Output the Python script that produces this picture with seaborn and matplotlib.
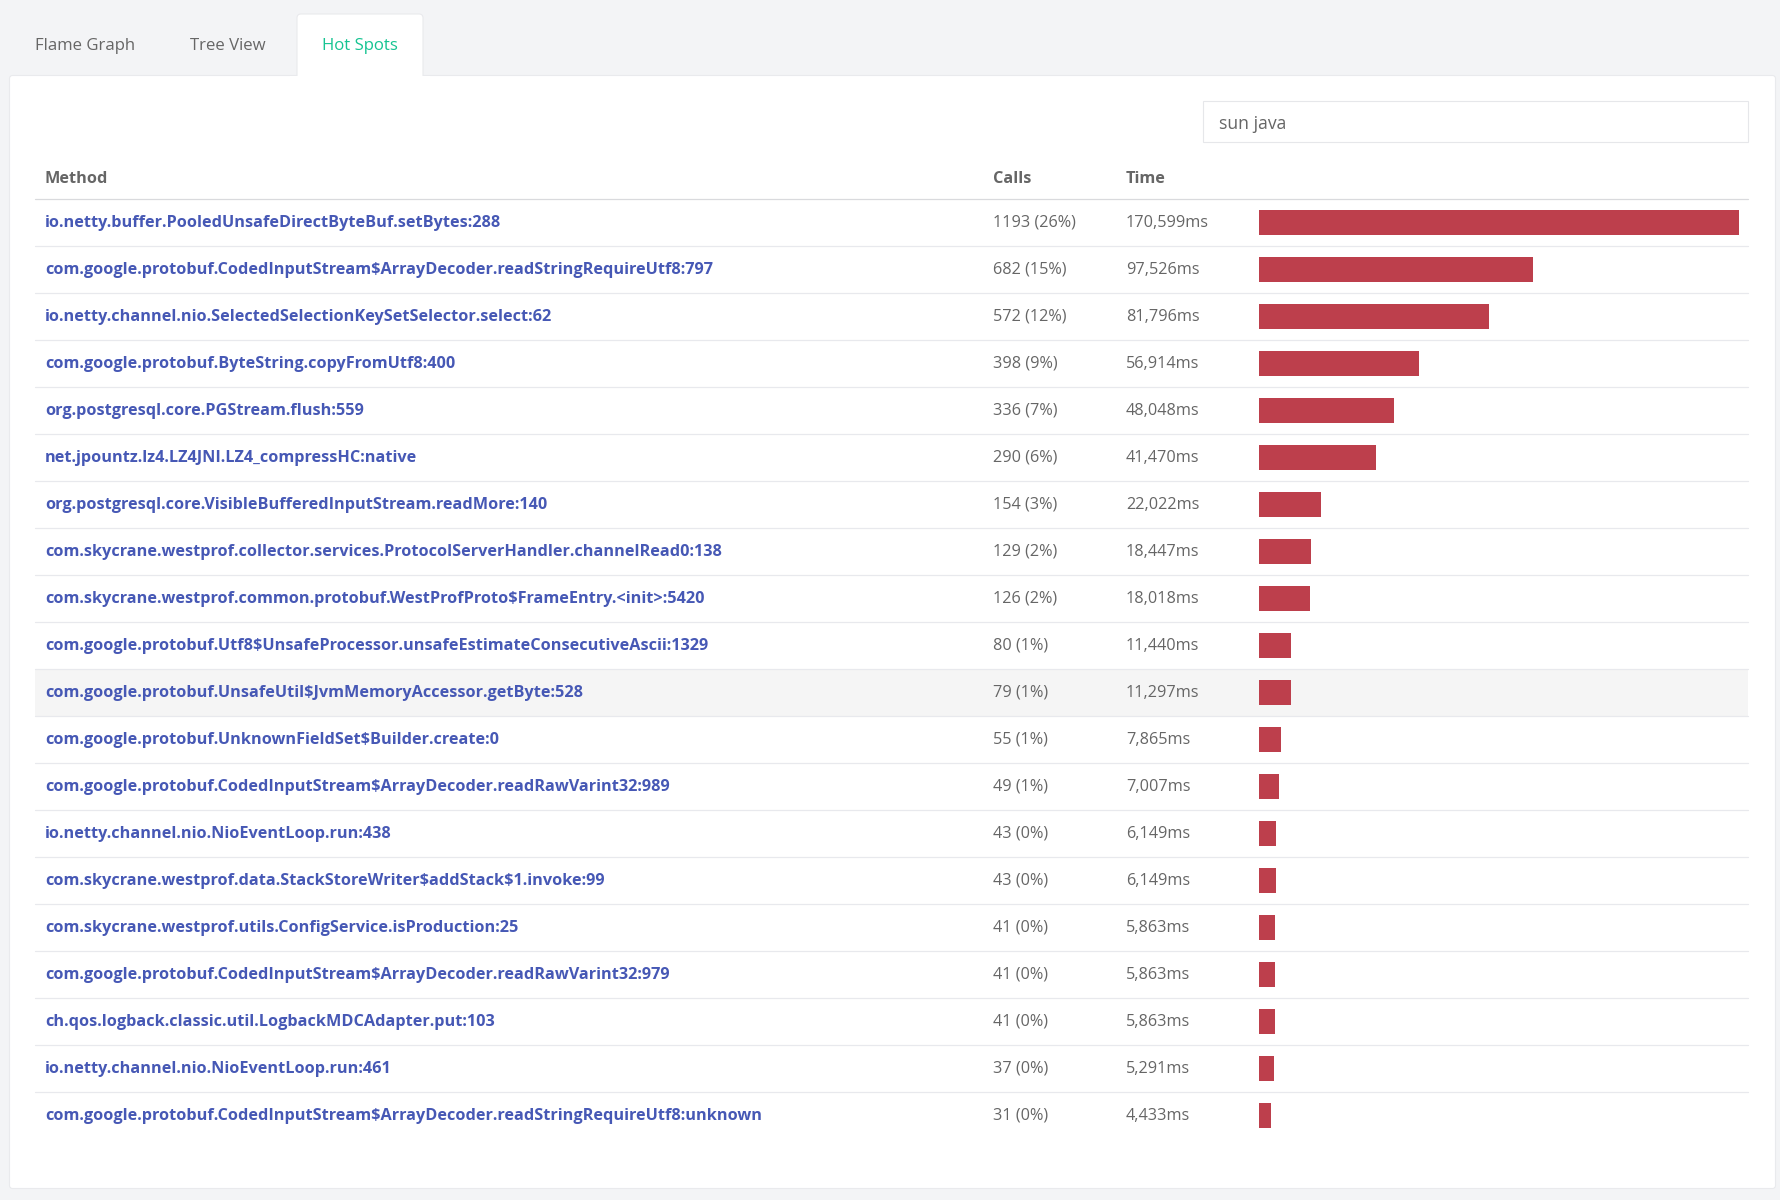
# -*- coding: utf-8 -*-
import pandas as pd
import seaborn as sns
import matplotlib.pyplot as plt
from matplotlib.patches import FancyBboxPatch, Rectangle

# --- dados ---
methods = [
    "io.netty.buffer.PooledUnsafeDirectByteBuf.setBytes:288",
    "com.google.protobuf.CodedInputStream$ArrayDecoder.readStringRequireUtf8:797",
    "io.netty.channel.nio.SelectedSelectionKeySetSelector.select:62",
    "com.google.protobuf.ByteString.copyFromUtf8:400",
    "org.postgresql.core.PGStream.flush:559",
    "net.jpountz.lz4.LZ4JNI.LZ4_compressHC:native",
    "org.postgresql.core.VisibleBufferedInputStream.readMore:140",
    "com.skycrane.westprof.collector.services.ProtocolServerHandler.channelRead0:138",
    "com.skycrane.westprof.common.protobuf.WestProfProto$FrameEntry.<init>:5420",
    "com.google.protobuf.Utf8$UnsafeProcessor.unsafeEstimateConsecutiveAscii:1329",
    "com.google.protobuf.UnsafeUtil$JvmMemoryAccessor.getByte:528",
    "com.google.protobuf.UnknownFieldSet$Builder.create:0",
    "com.google.protobuf.CodedInputStream$ArrayDecoder.readRawVarint32:989",
    "io.netty.channel.nio.NioEventLoop.run:438",
    "com.skycrane.westprof.data.StackStoreWriter$addStack$1.invoke:99",
    "com.skycrane.westprof.utils.ConfigService.isProduction:25",
    "com.google.protobuf.CodedInputStream$ArrayDecoder.readRawVarint32:979",
    "ch.qos.logback.classic.util.LogbackMDCAdapter.put:103",
    "io.netty.channel.nio.NioEventLoop.run:461",
    "com.google.protobuf.CodedInputStream$ArrayDecoder.readStringRequireUtf8:unknown",
]
calls = [1193, 682, 572, 398, 336, 290, 154, 129, 126, 80, 79, 55, 49, 43, 43, 41, 41, 41, 37, 31]
percents = [26, 15, 12, 9, 7, 6, 3, 2, 2, 1, 1, 1, 1, 0, 0, 0, 0, 0, 0, 0]
times_ms = [170599, 97526, 81796, 56914, 48048, 41470, 22022, 18447, 18018, 11440,
            11297, 7865, 7007, 6149, 6149, 5863, 5863, 5863, 5291, 4433]
tabs = ["Flame Graph", "Tree View", "Hot Spots"]
headers = ["Method", "Calls", "Time"]
search_text = "sun java"

# --- estilo ---
W, H = 1781, 1200
PAGE_BG = "#f3f4f6"
BAR_RED = "#bd3f4c"
LINK_BLUE = "#4658b5"
GREY = "#666666"
GREEN = "#16c492"
FS = 11.7

sns.set_theme(style="white")
plt.rcParams["font.family"] = ["Open Sans", "DejaVu Sans"]

fig = plt.figure(figsize=(W / 100, H / 100), dpi=100, facecolor=PAGE_BG)

# camada de fundo em pixels
bg = fig.add_axes([0, 0, 1, 1])
bg.set_xlim(0, W)
bg.set_ylim(H, 0)
bg.axis("off")

# painel branco
bg.add_patch(FancyBboxPatch((9.5, 75.5), 1766, 1113, boxstyle="round,pad=0,rounding_size=3",
                            fc="white", ec="#e9eaed", lw=0.8))
# aba ativa
bg.add_patch(FancyBboxPatch((297, 14), 126, 72, boxstyle="round,pad=0,rounding_size=4",
                            fc="white", ec="#e9eaed", lw=0.8))
bg.add_patch(Rectangle((290, 76.3), 140, 12, fc="white", ec="none"))

for label, x, color in zip(tabs, [35, 190.5, 322], [GREY, GREY, GREEN]):
    bg.text(x, 50, label, color=color, fontsize=12.1, va="baseline", fontweight=500)

# caixa de busca
bg.add_patch(Rectangle((1203, 101), 545.5, 41, fc="white", ec="#e6e7ea", lw=0.8))
bg.text(1219, 129, search_text, color=GREY, fontsize=12.7, va="baseline")

# cabeçalho
col_x = [45, 993, 1126]
for label, x in zip(headers, col_x):
    bg.text(x, 183, label, color=GREY, fontsize=FS, fontweight="bold", va="baseline")

# linhas da tabela
TOP = 199
ROW = 47
n = len(methods)
bg.add_patch(Rectangle((35, TOP + ROW * 10), 1713.5, ROW, fc="#f5f5f5", ec="none"))
bg.plot([35, 1748.5], [TOP, TOP], color="#d9dadd", lw=0.9)
for i in range(1, n):
    bg.plot([35, 1748.5], [TOP + ROW * i] * 2, color="#e8e9ed", lw=0.9)

for i in range(n):
    base = TOP + ROW * i + 27.7
    bg.text(col_x[0], base, methods[i], color=LINK_BLUE, fontsize=FS, fontweight="bold",
            va="baseline", parse_math=False)
    bg.text(col_x[1], base, f"{calls[i]} ({percents[i]}%)", color=GREY, fontsize=FS,
            va="baseline", parse_math=False)
    bg.text(col_x[2], base, f"{times_ms[i]:,}ms", color=GREY, fontsize=FS, va="baseline")

# barras
df = pd.DataFrame({"method": methods, "time": times_ms})
ax = fig.add_axes([1259 / W, 1 - (TOP + ROW * n) / H, 480 / W, ROW * n / H])
sns.barplot(data=df, x="time", y="method", orient="h", color=BAR_RED, saturation=1,
            width=25 / ROW, linewidth=0, ax=ax)
ax.set_xlim(0, max(times_ms))
ax.set_ylim(n - 0.5, -0.5)
ax.patch.set_alpha(0)
ax.axis("off")

fig.savefig("out.png", dpi=100, facecolor=PAGE_BG)
